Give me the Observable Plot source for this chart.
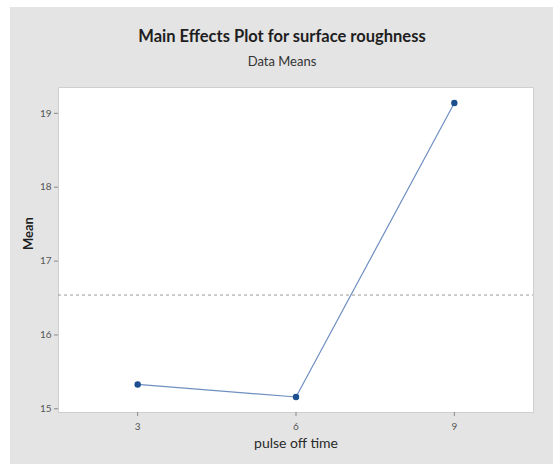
<!DOCTYPE html>
<html>
<head>
<meta charset="utf-8">
<script src="https://cdn.jsdelivr.net/npm/d3@7"></script>
<script src="https://cdn.jsdelivr.net/npm/@observablehq/plot@0.6"></script>
<style>
  html, body { margin: 0; padding: 0; background: #ffffff; }
  #wrap { position: relative; width: 553px; height: 464px; overflow: hidden; }
  #bg { position: absolute; left: 10px; top: 7px; right: 0; bottom: 0; background: #e4e4e4; }
  #chart { position: absolute; left: 0; top: 0; }
  .ttl { position: absolute; left: 0; width: 564px; text-align: center; font-family: Lato, "Open Sans", sans-serif; color: #1e1e1e; }
  #title { top: 26px; font-size: 16.5px; font-weight: 700; }
  #subtitle { top: 53px; font-size: 13px; font-weight: 400; color: #333; }
</style>
</head>
<body>
<div id="wrap">
  <div id="bg"></div>
  <div id="chart"></div>
  <div class="ttl" id="title">Main Effects Plot for surface roughness</div>
  <div class="ttl" id="subtitle">Data Means</div>
</div>
<script>
// Levels of the factor and the mean response at each level
const levels = [3, 6, 9];
const means = [15.33, 15.16, 19.14];
const yTicks = [15, 16, 17, 18, 19];
const grandMean = 16.54;

const rows = levels.map((lv, i) => ({level: lv, mean: means[i]}));

const chart = Plot.plot({
  width: 553,
  height: 464,
  marginLeft: 58,
  marginRight: 20,
  marginTop: 87,
  marginBottom: 52,
  style: {background: "transparent", fontFamily: "Lato, 'Open Sans', sans-serif", fontSize: "10px", color: "#555"},
  x: {domain: [1.5, 10.5], ticks: levels, tickFormat: d3.format("d"), label: null},
  y: {domain: [14.95, 19.35], ticks: yTicks, tickFormat: d3.format("d"), label: null},
  marks: [
    Plot.frame({fill: "#ffffff", stroke: "#cfcfcf"}),
    Plot.axisX({ticks: levels, tickFormat: d3.format("d"), tickSize: 4, tickPadding: 6, stroke: "#888", fill: "#555", fontSize: 10, label: null}),
    Plot.axisY({ticks: yTicks, tickFormat: d3.format("d"), tickSize: 4, tickPadding: 3, stroke: "#888", fill: "#555", fontSize: 10, label: null}),
    Plot.ruleY([grandMean], {stroke: "#9a9a9a", strokeWidth: 1, strokeDasharray: "3,3"}),
    Plot.line(rows, {x: "level", y: "mean", stroke: "#6f8fc0", strokeWidth: 1.2}),
    Plot.dot(rows, {x: "level", y: "mean", r: 3.2, fill: "#1d4f8f", stroke: "none"}),
    Plot.text(["Mean"], {frameAnchor: "left", rotate: -90, dx: -30, fontSize: 13, fontWeight: "bold", fill: "#1e1e1e"}),
    Plot.text(["pulse off time"], {frameAnchor: "bottom", dy: 35, fontSize: 14, fill: "#2a2a2a"})
  ]
});
document.getElementById("chart").appendChild(chart);
</script>
</body>
</html>
